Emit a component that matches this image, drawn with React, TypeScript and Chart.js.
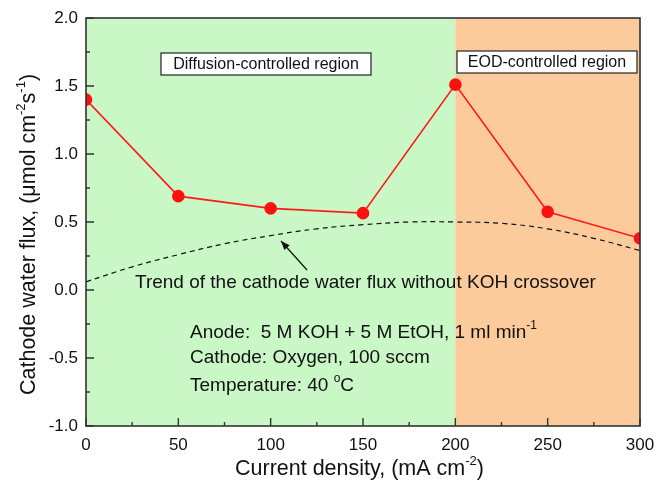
import React, { useEffect, useRef } from "react";
import { Chart, registerables } from "chart.js";

Chart.register(...registerables);

const currentDensity = [0, 50, 100, 150, 200, 250, 300];
const waterFlux = [1.40, 0.69, 0.60, 0.565, 1.51, 0.575, 0.38];

const trendX = [0, 25, 50, 75, 100, 125, 150, 175, 200, 225, 250, 275, 300];
const trendY = [0.06, 0.17, 0.26, 0.34, 0.40, 0.45, 0.48, 0.50, 0.50, 0.49, 0.45, 0.38, 0.29];

const xTicks = [0, 50, 100, 150, 200, 250, 300];
const yTicks = [-1.0, -0.5, 0.0, 0.5, 1.0, 1.5, 2.0];

const regionBounds = [0, 200, 300];
const regionColors = ["#c9f7c6", "#fbcb9c"];

const FONT = "'Liberation Sans', Arial, sans-serif";

type Seg = { t: string; sup?: boolean };

function drawRich(ctx: CanvasRenderingContext2D, segs: Seg[], x: number, y: number, size: number, align: "left" | "center") {
  const supSize = Math.round(size * 0.62);
  let total = 0;
  for (const s of segs) {
    ctx.font = `${s.sup ? supSize : size}px ${FONT}`;
    total += ctx.measureText(s.t).width;
  }
  let cx = align === "center" ? x - total / 2 : x;
  ctx.textAlign = "left";
  ctx.textBaseline = "alphabetic";
  for (const s of segs) {
    ctx.font = `${s.sup ? supSize : size}px ${FONT}`;
    ctx.fillText(s.t, cx, s.sup ? y - size * 0.45 : y);
    cx += ctx.measureText(s.t).width;
  }
}

const decorPlugin = {
  id: "decor",
  beforeDatasetsDraw(chart: any) {
    const { ctx, chartArea, scales } = chart;
    const xs = scales.x;
    ctx.save();
    for (let i = 0; i < regionColors.length; i++) {
      const x0 = xs.getPixelForValue(regionBounds[i]);
      const x1 = xs.getPixelForValue(regionBounds[i + 1]);
      ctx.fillStyle = regionColors[i];
      ctx.fillRect(x0, chartArea.top, x1 - x0, chartArea.bottom - chartArea.top);
    }
    ctx.restore();
  },
  afterDatasetsDraw(chart: any) {
    const { ctx, chartArea, scales } = chart;
    const xs = scales.x;
    const ys = scales.y;
    ctx.save();
    ctx.fillStyle = "#111";

    // boxed labels
    const boxes = [
      { text: "Diffusion-controlled region", x: 161, y: 53, w: 210, h: 22 },
      { text: "EOD-controlled region", x: 457, y: 51, w: 180, h: 22 },
    ];
    for (const b of boxes) {
      ctx.fillStyle = "#ffffff";
      ctx.fillRect(b.x, b.y, b.w, b.h);
      ctx.strokeStyle = "#222";
      ctx.lineWidth = 1.2;
      ctx.strokeRect(b.x, b.y, b.w, b.h);
      ctx.fillStyle = "#111";
      ctx.font = `16px ${FONT}`;
      ctx.textAlign = "center";
      ctx.textBaseline = "middle";
      ctx.fillText(b.text, b.x + b.w / 2, b.y + b.h / 2 + 1);
    }

    // trend label and arrow
    ctx.fillStyle = "#111";
    drawRich(ctx, [{ t: "Trend of the cathode water flux without KOH crossover" }], 135, 288, 19, "left");
    ctx.strokeStyle = "#111";
    ctx.lineWidth = 1.2;
    const ax0 = 307, ay0 = 270, ax1 = 281, ay1 = 241;
    ctx.beginPath();
    ctx.moveTo(ax0, ay0);
    ctx.lineTo(ax1, ay1);
    ctx.stroke();
    const ang = Math.atan2(ay1 - ay0, ax1 - ax0);
    const L = 9, W = 3.5;
    ctx.beginPath();
    ctx.moveTo(ax1, ay1);
    ctx.lineTo(ax1 - L * Math.cos(ang) + W * Math.sin(ang), ay1 - L * Math.sin(ang) - W * Math.cos(ang));
    ctx.lineTo(ax1 - L * Math.cos(ang) - W * Math.sin(ang), ay1 - L * Math.sin(ang) + W * Math.cos(ang));
    ctx.closePath();
    ctx.fill();

    // condition text
    drawRich(ctx, [{ t: "Anode:  5 M KOH + 5 M EtOH, 1 ml min" }, { t: "-1", sup: true }], 190, 338, 19, "left");
    drawRich(ctx, [{ t: "Cathode: Oxygen, 100 sccm" }], 190, 363, 19, "left");
    drawRich(ctx, [{ t: "Temperature: 40 " }, { t: "o", sup: true }, { t: "C" }], 190, 391, 19, "left");

    // frame
    ctx.strokeStyle = "#333";
    ctx.lineWidth = 1.6;
    ctx.strokeRect(chartArea.left, chartArea.top, chartArea.right - chartArea.left, chartArea.bottom - chartArea.top);

    // inward ticks
    ctx.lineWidth = 1.4;
    ctx.beginPath();
    for (let v = 0; v <= 300; v += 25) {
      const px = xs.getPixelForValue(v);
      const len = v % 50 === 0 ? 8 : 4;
      ctx.moveTo(px, chartArea.bottom);
      ctx.lineTo(px, chartArea.bottom - len);
    }
    for (let k = -4; k <= 8; k++) {
      const v = k * 0.25;
      const py = ys.getPixelForValue(v);
      const len = k % 2 === 0 ? 8 : 4;
      ctx.moveTo(chartArea.left, py);
      ctx.lineTo(chartArea.left + len, py);
    }
    ctx.stroke();

    // axis titles
    ctx.fillStyle = "#111";
    drawRich(ctx, [{ t: "Current density, (mA cm" }, { t: "-2", sup: true }, { t: ")" }], 235, 475, 21.5, "left");
    ctx.translate(35, 395);
    ctx.rotate(-Math.PI / 2);
    drawRich(ctx, [{ t: "Cathode water flux, (\u03bcmol cm" }, { t: "-2", sup: true }, { t: "s" }, { t: "-1", sup: true }, { t: ")" }], 0, 0, 21.5, "left");
    ctx.restore();
  },
};

export default function App() {
  const ref = useRef<HTMLCanvasElement | null>(null);
  useEffect(() => {
    if (!ref.current) return;
    const chart = new Chart(ref.current, {
      type: "scatter",
      data: {
        datasets: [
          {
            data: trendX.map((x, i) => ({ x, y: trendY[i] })),
            showLine: true,
            borderColor: "#111",
            borderWidth: 1.2,
            borderDash: [5, 4],
            pointRadius: 0,
            tension: 0.4,
            clip: 0,
          } as any,
          {
            data: currentDensity.map((x, i) => ({ x, y: waterFlux[i] })),
            showLine: true,
            borderColor: "#ff1a1a",
            borderWidth: 1.6,
            pointRadius: 5.5,
            pointBackgroundColor: "#ff1010",
            pointBorderColor: "#ff1010",
            tension: 0,
            clip: 0,
          } as any,
        ],
      },
      plugins: [decorPlugin],
      options: {
        animation: false,
        responsive: false,
        maintainAspectRatio: false,
        layout: { padding: { left: 0, right: 17, top: 18, bottom: 0 } },
        plugins: { legend: { display: false }, tooltip: { enabled: false } },
        scales: {
          x: {
            type: "linear",
            min: 0,
            max: 300,
            afterBuildTicks: (s: any) => {
              s.ticks = xTicks.map((v) => ({ value: v }));
            },
            afterFit: (s: any) => {
              s.height = 55;
              s.paddingLeft = 0;
              s.paddingRight = 0;
            },
            grid: { display: false, drawTicks: false },
            border: { display: false },
            ticks: {
              color: "#111",
              font: { family: FONT, size: 17 },
              padding: 9,
              maxRotation: 0,
              callback: (v: any) => String(v),
            },
          },
          y: {
            type: "linear",
            min: -1,
            max: 2,
            afterBuildTicks: (s: any) => {
              s.ticks = yTicks.map((v) => ({ value: v }));
            },
            afterFit: (s: any) => {
              s.width = 86;
              s.paddingTop = 0;
              s.paddingBottom = 0;
            },
            grid: { display: false, drawTicks: false },
            border: { display: false },
            ticks: {
              color: "#111",
              font: { family: FONT, size: 17 },
              padding: 8,
              callback: (v: any) => Number(v).toFixed(1),
            },
          },
        },
      },
    });
    return () => chart.destroy();
  }, []);
  return (
    <div style={{ position: "fixed", left: 0, top: 0, width: 657, height: 481, background: "#fff" }}>
      <canvas ref={ref} width={657} height={481} style={{ width: 657, height: 481 }} />
    </div>
  );
}
